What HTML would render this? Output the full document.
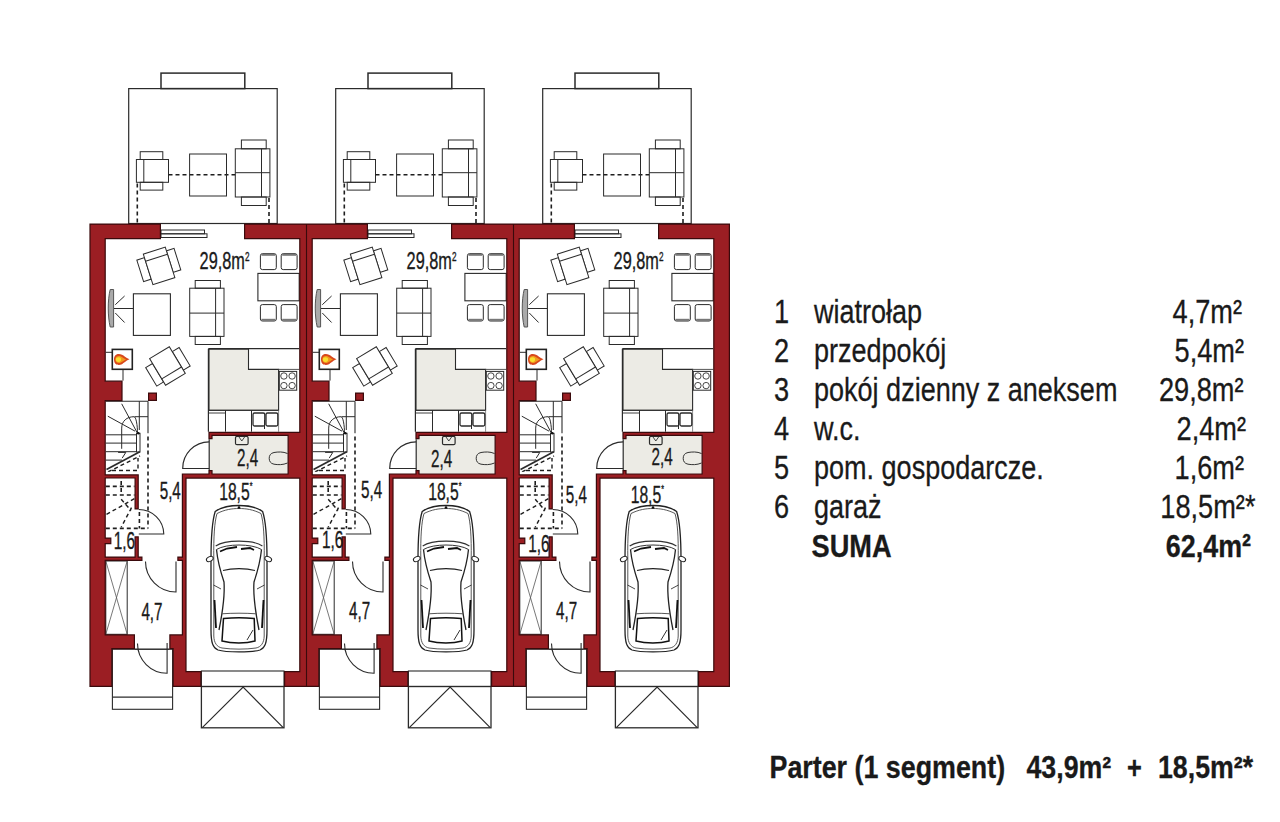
<!DOCTYPE html>
<html><head><meta charset="utf-8">
<style>
html,body{margin:0;padding:0;background:#fff;width:1280px;height:822px;overflow:hidden}
svg{display:block}
text{font-family:"Liberation Sans",sans-serif;fill:#1a1a1a}
</style></head>
<body>
<svg width="1280" height="822" viewBox="0 0 1280 822">
<defs>
<g id="wallshape">
<!--WALLS-->
</g>
<g id="seg">
<rect x="128.70" y="88.60" width="148.50" height="134.90" fill="none" stroke="#2b2b2b" stroke-width="1.2" />
<rect x="161.00" y="73.10" width="83.80" height="15.50" fill="none" stroke="#2b2b2b" stroke-width="1.5" />
<rect x="140.20" y="151.70" width="22.60" height="7.80" fill="none" stroke="#2b2b2b" stroke-width="1.0" />
<rect x="140.20" y="182.30" width="22.60" height="7.80" fill="none" stroke="#2b2b2b" stroke-width="1.0" />
<rect x="136.40" y="159.50" width="32.10" height="22.80" fill="none" stroke="#2b2b2b" stroke-width="1.0" />
<line x1="143.80" y1="159.50" x2="143.80" y2="182.30" stroke="#2b2b2b" stroke-width="1.0" />
<line x1="168.50" y1="174.80" x2="235.30" y2="174.80" stroke="#1e1e1e" stroke-width="1.6" stroke-dasharray="4,3" stroke-linecap="butt"/>
<line x1="137.30" y1="183.50" x2="137.30" y2="223.50" stroke="#1e1e1e" stroke-width="1.6" stroke-dasharray="4,3" stroke-linecap="butt"/>
<line x1="269.00" y1="198.00" x2="269.00" y2="223.50" stroke="#1e1e1e" stroke-width="1.6" stroke-dasharray="4,3" stroke-linecap="butt"/>
<rect x="189.60" y="154.00" width="36.90" height="42.00" fill="none" stroke="#2b2b2b" stroke-width="1.0" />
<rect x="241.40" y="140.00" width="24.80" height="8.80" fill="none" stroke="#2b2b2b" stroke-width="1.0" />
<rect x="241.40" y="197.00" width="24.80" height="8.50" fill="none" stroke="#2b2b2b" stroke-width="1.0" />
<rect x="235.30" y="148.80" width="34.60" height="48.20" fill="none" stroke="#2b2b2b" stroke-width="1.0" />
<line x1="235.30" y1="172.70" x2="269.90" y2="172.70" stroke="#2b2b2b" stroke-width="1.0" />
<line x1="261.50" y1="148.80" x2="261.50" y2="197.00" stroke="#2b2b2b" stroke-width="1.0" />
<line x1="128.70" y1="223.50" x2="277.20" y2="223.50" stroke="#2b2b2b" stroke-width="1.2" />
<rect x="161.00" y="230.00" width="43.50" height="3.80" fill="none" stroke="#2b2b2b" stroke-width="1.0" />
<rect x="161.00" y="233.80" width="46.00" height="3.70" fill="none" stroke="#2b2b2b" stroke-width="1.0" />
<g transform="translate(159.10,265.90) rotate(-17.50)">
<rect x="-19.50" y="-12.20" width="8.00" height="22.50" fill="#fff" stroke="#2b2b2b" stroke-width="1.0" />
<rect x="11.50" y="-12.20" width="8.00" height="22.50" fill="#fff" stroke="#2b2b2b" stroke-width="1.0" />
<rect x="-11.50" y="-16.00" width="23.00" height="32.00" fill="#fff" stroke="#2b2b2b" stroke-width="1.0" />
<line x1="-11.50" y1="-8.60" x2="11.50" y2="-8.60" stroke="#2b2b2b" stroke-width="1.0" />
</g>
<path d="M110.2,289.5 C107.6,300 107.6,316 110.2,327 L113.6,327 L113.6,289.5 Z" fill="#aaa" stroke="#555" stroke-width="1"/>
<line x1="114.00" y1="308.50" x2="133.40" y2="308.50" stroke="#2b2b2b" stroke-width="1.0" />
<line x1="115.30" y1="304.70" x2="124.60" y2="296.00" stroke="#2b2b2b" stroke-width="1.0" />
<line x1="115.30" y1="313.00" x2="124.60" y2="322.50" stroke="#2b2b2b" stroke-width="1.0" />
<rect x="133.40" y="293.80" width="37.00" height="41.60" fill="none" stroke="#2b2b2b" stroke-width="1.1" />
<rect x="195.20" y="280.50" width="25.20" height="7.70" fill="none" stroke="#2b2b2b" stroke-width="1.0" />
<rect x="195.20" y="336.40" width="25.20" height="8.10" fill="none" stroke="#2b2b2b" stroke-width="1.0" />
<rect x="189.70" y="288.20" width="34.30" height="48.20" fill="none" stroke="#2b2b2b" stroke-width="1.0" />
<line x1="189.70" y1="313.10" x2="224.00" y2="313.10" stroke="#2b2b2b" stroke-width="1.0" />
<line x1="215.60" y1="288.20" x2="215.60" y2="336.40" stroke="#2b2b2b" stroke-width="1.0" />
<rect x="257.90" y="273.40" width="41.30" height="27.40" fill="none" stroke="#2b2b2b" stroke-width="1.1" />
<rect x="260.40" y="253.70" width="15.90" height="15.90" fill="none" stroke="#2b2b2b" stroke-width="1.0" rx="2"/>
<line x1="261.40" y1="254.80" x2="275.30" y2="254.80" stroke="#777" stroke-width="2.0" />
<rect x="260.40" y="304.60" width="15.90" height="16.40" fill="none" stroke="#2b2b2b" stroke-width="1.0" rx="2"/>
<line x1="261.40" y1="319.80" x2="275.30" y2="319.80" stroke="#777" stroke-width="2.0" />
<rect x="281.20" y="253.70" width="15.90" height="15.90" fill="none" stroke="#2b2b2b" stroke-width="1.0" rx="2"/>
<line x1="282.20" y1="254.80" x2="296.10" y2="254.80" stroke="#777" stroke-width="2.0" />
<rect x="281.20" y="304.60" width="15.90" height="16.40" fill="none" stroke="#2b2b2b" stroke-width="1.0" rx="2"/>
<line x1="282.20" y1="319.80" x2="296.10" y2="319.80" stroke="#777" stroke-width="2.0" />
<line x1="105.80" y1="352.30" x2="112.30" y2="352.30" stroke="#2b2b2b" stroke-width="1.0" />
<line x1="123.00" y1="369.30" x2="123.00" y2="380.60" stroke="#2b2b2b" stroke-width="1.0" />
<rect x="112.30" y="349.40" width="20.00" height="19.90" fill="#fff" stroke="#222" stroke-width="1.6" />
<path d="M114,359.5 C114,354 118.5,353.2 122,354.8 C124,355.8 125.5,357.5 129.5,359.3 C125.5,361 124,363 122,364.2 C118.5,365.8 114,365 114,359.5 Z" fill="#d8481c"/>
<path d="M115.3,359.5 C115.5,356.2 118.5,355.5 121,356.6 C122.8,357.5 124,358.6 126,359.4 C124,360.3 122.8,361.5 121,362.4 C118.5,363.6 115.5,362.8 115.3,359.5 Z" fill="#f29a1e"/>
<ellipse cx="118.5" cy="359.6" rx="2.6" ry="2.4" fill="#f8e030"/>
<g transform="translate(167.45,366.00) rotate(149.00)">
<rect x="-19.50" y="-11.70" width="8.00" height="21.50" fill="#fff" stroke="#2b2b2b" stroke-width="1.0" />
<rect x="11.50" y="-11.70" width="8.00" height="21.50" fill="#fff" stroke="#2b2b2b" stroke-width="1.0" />
<rect x="-11.50" y="-15.50" width="23.00" height="31.00" fill="#fff" stroke="#2b2b2b" stroke-width="1.0" />
<line x1="-11.50" y1="-8.10" x2="11.50" y2="-8.10" stroke="#2b2b2b" stroke-width="1.0" />
</g>
<path d="M208.4,348.7 H299.2 M208.4,348.7 V431.7" fill="none" stroke="#2b2b2b" stroke-width="1.2"/>
<path d="M209,349.3 H248.5 V369.4 H278.6 V410.3 H209 Z" fill="#ecebe5" stroke="#2b2b2b" stroke-width="1.1"/>
<line x1="278.60" y1="369.40" x2="299.20" y2="369.40" stroke="#555" stroke-width="1.0" />
<rect x="279.30" y="371.40" width="17.40" height="18.80" fill="none" stroke="#2b2b2b" stroke-width="1.0" />
<circle cx="283.9" cy="376" r="3.2" fill="none" stroke="#333" stroke-width="0.9"/>
<circle cx="292.1" cy="376" r="3.2" fill="none" stroke="#333" stroke-width="0.9"/>
<circle cx="283.9" cy="385.6" r="3.2" fill="none" stroke="#333" stroke-width="0.9"/>
<circle cx="292.1" cy="385.6" r="3.2" fill="none" stroke="#333" stroke-width="0.9"/>
<line x1="278.60" y1="410.30" x2="278.60" y2="431.70" stroke="#8a8a8a" stroke-width="1.0" />
<line x1="209.00" y1="410.30" x2="278.60" y2="410.30" stroke="#2b2b2b" stroke-width="1.0" />
<line x1="209.00" y1="413.00" x2="225.50" y2="413.00" stroke="#2b2b2b" stroke-width="0.9" />
<line x1="225.50" y1="410.30" x2="225.50" y2="431.70" stroke="#2b2b2b" stroke-width="1.0" />
<line x1="251.50" y1="410.30" x2="251.50" y2="431.70" stroke="#2b2b2b" stroke-width="1.0" />
<rect x="253.00" y="413.00" width="11.80" height="13.00" fill="none" stroke="#2b2b2b" stroke-width="1.3" rx="1.5"/>
<rect x="266.00" y="413.00" width="11.80" height="13.00" fill="none" stroke="#2b2b2b" stroke-width="1.3" rx="1.5"/>
<line x1="264.50" y1="420.00" x2="264.50" y2="429.00" stroke="#2b2b2b" stroke-width="1.0" />
<rect x="209.20" y="436.00" width="78.30" height="37.40" fill="#ecebe5" stroke="none" stroke-width="0" />
<line x1="209.20" y1="439.20" x2="209.20" y2="470.00" stroke="#2b2b2b" stroke-width="1.2" />
<rect x="235.50" y="436.30" width="12.60" height="8.40" fill="none" stroke="#2b2b2b" stroke-width="1.2" rx="1.5"/>
<path d="M239,437 L241.8,441 L244.6,437" fill="none" stroke="#333" stroke-width="0.9" />
<path d="M287.5,453.5 C283,451.5 278,451.8 274,452.5 C270.5,453.2 269.2,455.5 269.2,458.3 C269.2,461.2 270.5,463.5 274,464.2 C278,464.9 283,465 287.5,463" fill="none" stroke="#333" stroke-width="1.0" />
<path d="M209.2,441.8 A26.5,26.5 0 0 0 182.7,468.5 H209.2" fill="none" stroke="#2b2b2b" stroke-width="1.2" />
<line x1="105.80" y1="401.20" x2="148.00" y2="401.20" stroke="#2b2b2b" stroke-width="1.1" />
<line x1="148.00" y1="401.20" x2="148.00" y2="433.30" stroke="#2b2b2b" stroke-width="1.1" />
<line x1="139.30" y1="401.20" x2="139.30" y2="430.00" stroke="#2b2b2b" stroke-width="1.0" />
<line x1="134.60" y1="416.70" x2="148.00" y2="416.70" stroke="#2b2b2b" stroke-width="1.0" />
<path d="M121.7,448.8 V428.1 C121.7,421 127,416.7 134,416.7 C136,416.7 137.5,425 137.5,433.3" fill="none" stroke="#2b2b2b" stroke-width="1.0" />
<line x1="121.70" y1="403.80" x2="137.50" y2="433.30" stroke="#2b2b2b" stroke-width="1.0" />
<line x1="107.80" y1="416.20" x2="135.10" y2="431.20" stroke="#2b2b2b" stroke-width="1.0" />
<line x1="105.80" y1="434.80" x2="137.00" y2="434.80" stroke="#2b2b2b" stroke-width="1.0" />
<line x1="105.80" y1="443.10" x2="137.00" y2="443.10" stroke="#2b2b2b" stroke-width="1.0" />
<line x1="105.80" y1="451.70" x2="136.00" y2="451.70" stroke="#2b2b2b" stroke-width="1.0" />
<line x1="105.80" y1="460.10" x2="122.00" y2="460.10" stroke="#2b2b2b" stroke-width="1.0" />
<rect x="136.50" y="433.30" width="3.50" height="18.70" fill="none" stroke="#2b2b2b" stroke-width="1.0" />
<circle cx="138.3" cy="433.3" r="1.3" fill="#111"/>
<path d="M118.1,452.4 L125.8,452.4 L122.2,458.1" fill="none" stroke="#2b2b2b" stroke-width="1.0" />
<line x1="106.50" y1="469.50" x2="139.80" y2="451.80" stroke="#2b2b2b" stroke-width="1.6" />
<path d="M108,472 L140,456" fill="none" stroke="#1e1e1e" stroke-width="1.4" stroke-dasharray="4,3" stroke-linecap="butt"/>
<path d="M112,470.5 H138 V458" fill="none" stroke="#1e1e1e" stroke-width="1.4" stroke-dasharray="4,3" stroke-linecap="butt"/>
<line x1="106.00" y1="472.50" x2="134.50" y2="472.50" stroke="#fff" stroke-width="1.4" />
<line x1="148.00" y1="436.40" x2="148.00" y2="528.40" stroke="#1e1e1e" stroke-width="1.6" stroke-dasharray="4,3" stroke-linecap="butt"/>
<line x1="105.80" y1="528.40" x2="148.00" y2="528.40" stroke="#1e1e1e" stroke-width="1.6" stroke-dasharray="4,3" stroke-linecap="butt"/>
<line x1="139.40" y1="512.00" x2="139.40" y2="528.40" stroke="#1e1e1e" stroke-width="1.6" stroke-dasharray="4,3" stroke-linecap="butt"/>
<line x1="105.80" y1="486.40" x2="134.50" y2="486.40" stroke="#1e1e1e" stroke-width="1.6" stroke-dasharray="4,3" stroke-linecap="butt"/>
<line x1="105.80" y1="495.00" x2="134.50" y2="495.00" stroke="#1e1e1e" stroke-width="1.6" stroke-dasharray="4,3" stroke-linecap="butt"/>
<line x1="121.20" y1="481.00" x2="121.20" y2="494.30" stroke="#1e1e1e" stroke-width="1.6" stroke-dasharray="4,3" stroke-linecap="butt"/>
<line x1="106.50" y1="514.40" x2="134.50" y2="498.60" stroke="#1e1e1e" stroke-width="1.4" stroke-dasharray="4,3" stroke-linecap="butt"/>
<line x1="121.20" y1="499.20" x2="131.00" y2="510.50" stroke="#1e1e1e" stroke-width="1.4" stroke-dasharray="4,3" stroke-linecap="butt"/>
<line x1="131.50" y1="507.70" x2="121.20" y2="527.20" stroke="#1e1e1e" stroke-width="1.4" stroke-dasharray="4,3" stroke-linecap="butt"/>
<path d="M138.8,509.5 A25,25 0 0 1 163.8,534 H138.8" fill="none" stroke="#2b2b2b" stroke-width="1.1" />
<path d="M145.5,561.5 A30.5,30.5 0 0 0 176,592 V561.5" fill="none" stroke="#2b2b2b" stroke-width="1.1" />
<rect x="105.80" y="561.00" width="21.40" height="73.30" fill="none" stroke="#2b2b2b" stroke-width="1.0" />
<line x1="105.80" y1="561.00" x2="127.20" y2="634.30" stroke="#555" stroke-width="0.8" />
<line x1="127.20" y1="561.00" x2="105.80" y2="634.30" stroke="#555" stroke-width="0.8" />
<rect x="112.40" y="649.20" width="60.20" height="60.10" fill="none" stroke="#2b2b2b" stroke-width="1.1" />
<line x1="112.40" y1="697.20" x2="172.60" y2="697.20" stroke="#2b2b2b" stroke-width="1.3" />
<line x1="135.00" y1="649.20" x2="169.30" y2="649.20" stroke="#2b2b2b" stroke-width="1.1" />
<path d="M137.5,643.6 A29.6,29.6 0 0 0 167.1,673.2 V643" fill="none" stroke="#2b2b2b" stroke-width="1.1" />
<rect x="201.40" y="671.00" width="82.60" height="15.50" fill="#fff" stroke="#2b2b2b" stroke-width="1.1" />
<rect x="201.40" y="686.50" width="82.60" height="41.30" fill="none" stroke="#2b2b2b" stroke-width="1.3" />
<path d="M202.3,727.6 L243.1,687.1 L283.2,727.6" fill="none" stroke="#2b2b2b" stroke-width="1.2" />
<path d="M215.2,511.5 C222,506.5 232,505.5 239,505.5 C246,505.5 256,506.5 262.6,511.5 C265.5,520 267,535 267,560 L267,630 C267,643 265,648 260,650 C252,652.5 226,652.5 218,650 C213,648 211,643 211,630 L211,560 C211,535 212.5,520 215.2,511.5 Z" fill="#fff" stroke="#222" stroke-width="1.3" />
<path d="M217,513.5 C225,509.5 232,508.5 239,508.5 C246,508.5 253,509.5 261,513.5 C263.5,522 264.5,537 264.2,558" fill="none" stroke="#444" stroke-width="0.9" />
<path d="M217,513.5 C214.5,522 213.5,537 213.8,558" fill="none" stroke="#444" stroke-width="0.9" />
<path d="M213.8,558 L213.8,636 C214,643 217,647 222,648 C232,649.5 246,649.5 256,648 C261,647 264,643 264.2,636 L264.2,558" fill="none" stroke="#444" stroke-width="0.9" />
<path d="M215.7,546 C225,539.5 253,539.5 262.4,546" fill="none" stroke="#333" stroke-width="1.1" />
<path d="M216.5,549.5 C226,543.5 252,543.5 261.5,549.5" fill="none" stroke="#333" stroke-width="1.0" />
<path d="M220,551.5 L227,548.5 L237,547 M241,549 L250,548 L254,550" fill="none" stroke="#111" stroke-width="1.8" />
<path d="M216.5,549.5 C217.5,560 220,570 224,582 C225,595 223,610 219,630" fill="none" stroke="#222" stroke-width="1.3" />
<path d="M261.5,549.5 C260.5,560 258,570 254,582 C253,595 255,610 259,630" fill="none" stroke="#222" stroke-width="1.3" />
<path d="M223,570.5 C232,568 246,568 255,570.5" fill="none" stroke="#222" stroke-width="1.2" />
<path d="M222,613.8 C232,613 246,613 256,613.8" fill="none" stroke="#555" stroke-width="1.0" />
<path d="M223.5,618.5 C233,617.5 245,617.5 254.2,618.5 L255,641 C246,643.5 232,643.5 222,641 Z" fill="none" stroke="#111" stroke-width="1.5" />
<path d="M253,630 L247,640" fill="none" stroke="#333" stroke-width="1.0" />
<path d="M214.5,600 L216,628" fill="none" stroke="#111" stroke-width="1.8" />
<path d="M263.5,600 L262,628" fill="none" stroke="#111" stroke-width="1.8" />
<path d="M213.5,585 L221,589 M264.5,585 L257,589" fill="none" stroke="#333" stroke-width="0.9" />
<ellipse cx="209.8" cy="559" rx="3.6" ry="2.3" transform="rotate(-25 209.8 559)" fill="#fff" stroke="#222" stroke-width="1"/>
<ellipse cx="268.2" cy="559" rx="3.6" ry="2.3" transform="rotate(25 268.2 559)" fill="#fff" stroke="#222" stroke-width="1"/>
<circle cx="239" cy="507.5" r="1.3" fill="#111"/>
</g>
</defs>
<rect x="0" y="0" width="1280" height="822" fill="#fff"/>

<use href="#seg"/>
<use href="#seg" x="207"/>
<use href="#seg" x="414"/>
<path d="M658.60,224.10 L658.60,238.60 L713.80,238.60 L713.80,432.30 L623.00,432.30 L623.00,438.60 L626.00,438.60 L626.00,435.40 L702.10,435.40 L702.10,474.00 L626.00,474.00 L626.00,470.60 L623.00,470.60 L623.00,474.00 L596.40,474.00 L596.40,557.10 L591.90,557.10 L591.90,560.40 L596.40,560.40 L596.40,634.90 L583.90,634.90 L583.90,648.60 L587.20,648.60 L587.20,686.40 L614.80,686.40 L614.80,671.60 L600.00,671.60 L600.00,478.10 L713.80,478.10 L713.80,671.60 L698.60,671.60 L698.60,686.40 L729.40,686.40 L729.40,224.10 Z M451.60,224.10 L451.60,238.60 L506.80,238.60 L506.80,432.30 L416.00,432.30 L416.00,438.60 L419.00,438.60 L419.00,435.40 L495.10,435.40 L495.10,474.00 L419.00,474.00 L419.00,470.60 L416.00,470.60 L416.00,474.00 L389.40,474.00 L389.40,557.10 L384.90,557.10 L384.90,560.40 L389.40,560.40 L389.40,634.90 L376.90,634.90 L376.90,648.60 L380.20,648.60 L380.20,686.40 L407.80,686.40 L407.80,671.60 L393.00,671.60 L393.00,478.10 L506.80,478.10 L506.80,671.60 L491.60,671.60 L491.60,686.40 L525.80,686.40 L525.80,648.60 L548.40,648.60 L548.40,634.90 L519.20,634.90 L519.20,560.40 L555.90,560.40 L555.90,557.10 L552.20,557.10 L552.20,536.90 L549.10,536.90 L549.10,557.10 L519.20,557.10 L519.20,543.60 L524.80,543.60 L524.80,538.10 L519.20,538.10 L519.20,478.00 L549.10,478.00 L549.10,508.90 L552.20,508.90 L552.20,474.90 L519.20,474.90 L519.20,400.60 L536.00,400.60 L536.00,381.20 L519.20,381.20 L519.20,238.60 L574.40,238.60 L574.40,224.10 Z M570.40,400.40 L570.40,393.10 L562.60,393.10 L562.60,400.40 Z M209.00,432.30 L209.00,438.60 L212.00,438.60 L212.00,435.40 L288.10,435.40 L288.10,474.00 L212.00,474.00 L212.00,470.60 L209.00,470.60 L209.00,474.00 L182.40,474.00 L182.40,557.10 L177.90,557.10 L177.90,560.40 L182.40,560.40 L182.40,634.90 L169.90,634.90 L169.90,648.60 L173.20,648.60 L173.20,686.40 L200.80,686.40 L200.80,671.60 L186.00,671.60 L186.00,478.10 L299.80,478.10 L299.80,671.60 L284.60,671.60 L284.60,686.40 L318.80,686.40 L318.80,648.60 L341.40,648.60 L341.40,634.90 L312.20,634.90 L312.20,560.40 L348.90,560.40 L348.90,557.10 L345.20,557.10 L345.20,536.90 L342.10,536.90 L342.10,557.10 L312.20,557.10 L312.20,543.60 L317.80,543.60 L317.80,538.10 L312.20,538.10 L312.20,478.00 L342.10,478.00 L342.10,508.90 L345.20,508.90 L345.20,474.90 L312.20,474.90 L312.20,400.60 L329.00,400.60 L329.00,381.20 L312.20,381.20 L312.20,238.60 L367.40,238.60 L367.40,224.10 L244.60,224.10 L244.60,238.60 L299.80,238.60 L299.80,432.30 Z M355.60,400.40 L363.40,400.40 L363.40,393.10 L355.60,393.10 Z M90.00,224.10 L90.00,686.40 L111.80,686.40 L111.80,648.60 L134.40,648.60 L134.40,634.90 L105.20,634.90 L105.20,560.40 L141.90,560.40 L141.90,557.10 L138.20,557.10 L138.20,536.90 L135.10,536.90 L135.10,557.10 L105.20,557.10 L105.20,543.60 L110.80,543.60 L110.80,538.10 L105.20,538.10 L105.20,478.00 L135.10,478.00 L135.10,508.90 L138.20,508.90 L138.20,474.90 L105.20,474.90 L105.20,400.60 L122.00,400.60 L122.00,381.20 L105.20,381.20 L105.20,238.60 L160.40,238.60 L160.40,224.10 Z M148.60,400.40 L156.40,400.40 L156.40,393.10 L148.60,393.10 Z" fill="#9b1e23" stroke="#3a0a0c" stroke-width="1.2" fill-rule="evenodd"/>
<line x1="306.50" y1="224.00" x2="306.50" y2="686.50" stroke="#3a0a0c" stroke-width="1.1" />
<line x1="513.50" y1="224.00" x2="513.50" y2="686.50" stroke="#3a0a0c" stroke-width="1.1" />
<text transform="translate(199.60,269.40) scale(0.68,1)" font-size="24" stroke="#1a1a1a" stroke-width="0.35">29,8m<tspan font-size="12" dy="-8.5">2</tspan></text>
<text transform="translate(237.10,465.50) scale(0.62,1)" font-size="24.5" stroke="#1a1a1a" stroke-width="0.35">2,4</text>
<text transform="translate(159.70,498.60) scale(0.62,1)" font-size="24.5" stroke="#1a1a1a" stroke-width="0.35">5,4</text>
<text transform="translate(219.20,500.00) scale(0.64,1)" font-size="24.5" stroke="#1a1a1a" stroke-width="0.35">18,5<tspan font-size="11" dy="-10">*</tspan></text>
<text transform="translate(113.70,548.50) scale(0.64,1)" font-size="24" stroke="#1a1a1a" stroke-width="0.35">1,6</text>
<text transform="translate(141.40,619.90) scale(0.62,1)" font-size="24.5" stroke="#1a1a1a" stroke-width="0.35">4,7</text>
<text transform="translate(406.60,269.40) scale(0.68,1)" font-size="24" stroke="#1a1a1a" stroke-width="0.35">29,8m<tspan font-size="12" dy="-8.5">2</tspan></text>
<text transform="translate(431.00,467.00) scale(0.62,1)" font-size="24.5" stroke="#1a1a1a" stroke-width="0.35">2,4</text>
<text transform="translate(361.00,498.10) scale(0.62,1)" font-size="24.5" stroke="#1a1a1a" stroke-width="0.35">5,4</text>
<text transform="translate(428.20,500.00) scale(0.64,1)" font-size="24.5" stroke="#1a1a1a" stroke-width="0.35">18,5<tspan font-size="11" dy="-10">*</tspan></text>
<text transform="translate(321.90,548.10) scale(0.64,1)" font-size="24" stroke="#1a1a1a" stroke-width="0.35">1,6</text>
<text transform="translate(349.00,619.20) scale(0.62,1)" font-size="24.5" stroke="#1a1a1a" stroke-width="0.35">4,7</text>
<text transform="translate(613.60,269.40) scale(0.68,1)" font-size="24" stroke="#1a1a1a" stroke-width="0.35">29,8m<tspan font-size="12" dy="-8.5">2</tspan></text>
<text transform="translate(651.50,465.20) scale(0.62,1)" font-size="24.5" stroke="#1a1a1a" stroke-width="0.35">2,4</text>
<text transform="translate(565.80,502.50) scale(0.62,1)" font-size="24.5" stroke="#1a1a1a" stroke-width="0.35">5,4</text>
<text transform="translate(630.70,502.50) scale(0.64,1)" font-size="24.5" stroke="#1a1a1a" stroke-width="0.35">18,5<tspan font-size="11" dy="-10">*</tspan></text>
<text transform="translate(528.20,552.10) scale(0.64,1)" font-size="24" stroke="#1a1a1a" stroke-width="0.35">1,6</text>
<text transform="translate(556.00,619.20) scale(0.62,1)" font-size="24.5" stroke="#1a1a1a" stroke-width="0.35">4,7</text>
<text transform="translate(774.00,322.80) scale(0.8,1)" font-size="34" font-weight="normal" text-anchor="start" fill="#1a1a1a" stroke="#1a1a1a" stroke-width="0.3">1</text>
<text transform="translate(814.00,322.80) scale(0.795,1)" font-size="34" font-weight="normal" text-anchor="start" fill="#1a1a1a" stroke="#1a1a1a" stroke-width="0.3">wiatrołap</text>
<text transform="translate(1242.00,322.80) scale(0.8,1)" font-size="34" font-weight="normal" text-anchor="end" fill="#1a1a1a" stroke="#1a1a1a" stroke-width="0.3">4,7m²</text>
<text transform="translate(774.00,361.75) scale(0.8,1)" font-size="34" font-weight="normal" text-anchor="start" fill="#1a1a1a" stroke="#1a1a1a" stroke-width="0.3">2</text>
<text transform="translate(814.00,361.75) scale(0.795,1)" font-size="34" font-weight="normal" text-anchor="start" fill="#1a1a1a" stroke="#1a1a1a" stroke-width="0.3">przedpokój</text>
<text transform="translate(1244.00,361.75) scale(0.8,1)" font-size="34" font-weight="normal" text-anchor="end" fill="#1a1a1a" stroke="#1a1a1a" stroke-width="0.3">5,4m²</text>
<text transform="translate(774.00,400.70) scale(0.8,1)" font-size="34" font-weight="normal" text-anchor="start" fill="#1a1a1a" stroke="#1a1a1a" stroke-width="0.3">3</text>
<text transform="translate(814.00,400.70) scale(0.795,1)" font-size="34" font-weight="normal" text-anchor="start" fill="#1a1a1a" stroke="#1a1a1a" stroke-width="0.3">pokój dzienny z aneksem</text>
<text transform="translate(1243.50,400.70) scale(0.8,1)" font-size="34" font-weight="normal" text-anchor="end" fill="#1a1a1a" stroke="#1a1a1a" stroke-width="0.3">29,8m²</text>
<text transform="translate(774.00,439.65) scale(0.8,1)" font-size="34" font-weight="normal" text-anchor="start" fill="#1a1a1a" stroke="#1a1a1a" stroke-width="0.3">4</text>
<text transform="translate(814.00,439.65) scale(0.795,1)" font-size="34" font-weight="normal" text-anchor="start" fill="#1a1a1a" stroke="#1a1a1a" stroke-width="0.3">w.c.</text>
<text transform="translate(1246.00,439.65) scale(0.8,1)" font-size="34" font-weight="normal" text-anchor="end" fill="#1a1a1a" stroke="#1a1a1a" stroke-width="0.3">2,4m²</text>
<text transform="translate(774.00,478.60) scale(0.8,1)" font-size="34" font-weight="normal" text-anchor="start" fill="#1a1a1a" stroke="#1a1a1a" stroke-width="0.3">5</text>
<text transform="translate(814.00,478.60) scale(0.795,1)" font-size="34" font-weight="normal" text-anchor="start" fill="#1a1a1a" stroke="#1a1a1a" stroke-width="0.3">pom. gospodarcze.</text>
<text transform="translate(1244.00,478.60) scale(0.8,1)" font-size="34" font-weight="normal" text-anchor="end" fill="#1a1a1a" stroke="#1a1a1a" stroke-width="0.3">1,6m²</text>
<text transform="translate(774.00,517.55) scale(0.8,1)" font-size="34" font-weight="normal" text-anchor="start" fill="#1a1a1a" stroke="#1a1a1a" stroke-width="0.3">6</text>
<text transform="translate(814.00,517.55) scale(0.795,1)" font-size="34" font-weight="normal" text-anchor="start" fill="#1a1a1a" stroke="#1a1a1a" stroke-width="0.3">garaż</text>
<text transform="translate(1255.50,517.55) scale(0.8,1)" font-size="34" font-weight="normal" text-anchor="end" fill="#1a1a1a" stroke="#1a1a1a" stroke-width="0.3">18,5m²*</text>
<text transform="translate(811.50,556.50) scale(0.85,1)" font-size="32" font-weight="bold" text-anchor="start" fill="#1a1a1a" stroke="#1a1a1a" stroke-width="0.3">SUMA</text>
<text transform="translate(1251.00,556.50) scale(0.84,1)" font-size="32" font-weight="bold" text-anchor="end" fill="#1a1a1a" stroke="#1a1a1a" stroke-width="0.3">62,4m²</text>
<text transform="translate(769.50,778.00) scale(0.866,1)" font-size="31" font-weight="bold" text-anchor="start" fill="#1a1a1a" stroke="#1a1a1a" stroke-width="0.3">Parter (1 segment)</text>
<text transform="translate(1026.50,778.00) scale(0.862,1)" font-size="31" font-weight="bold" text-anchor="start" fill="#1a1a1a" stroke="#1a1a1a" stroke-width="0.3">43,9m²</text>
<text transform="translate(1127.00,778.00) scale(0.82,1)" font-size="31" font-weight="bold" text-anchor="start" fill="#1a1a1a" stroke="#1a1a1a" stroke-width="0.3">+</text>
<text transform="translate(1158.00,778.00) scale(0.862,1)" font-size="31" font-weight="bold" text-anchor="start" fill="#1a1a1a" stroke="#1a1a1a" stroke-width="0.3">18,5m²*</text>
</svg>
</body></html>
